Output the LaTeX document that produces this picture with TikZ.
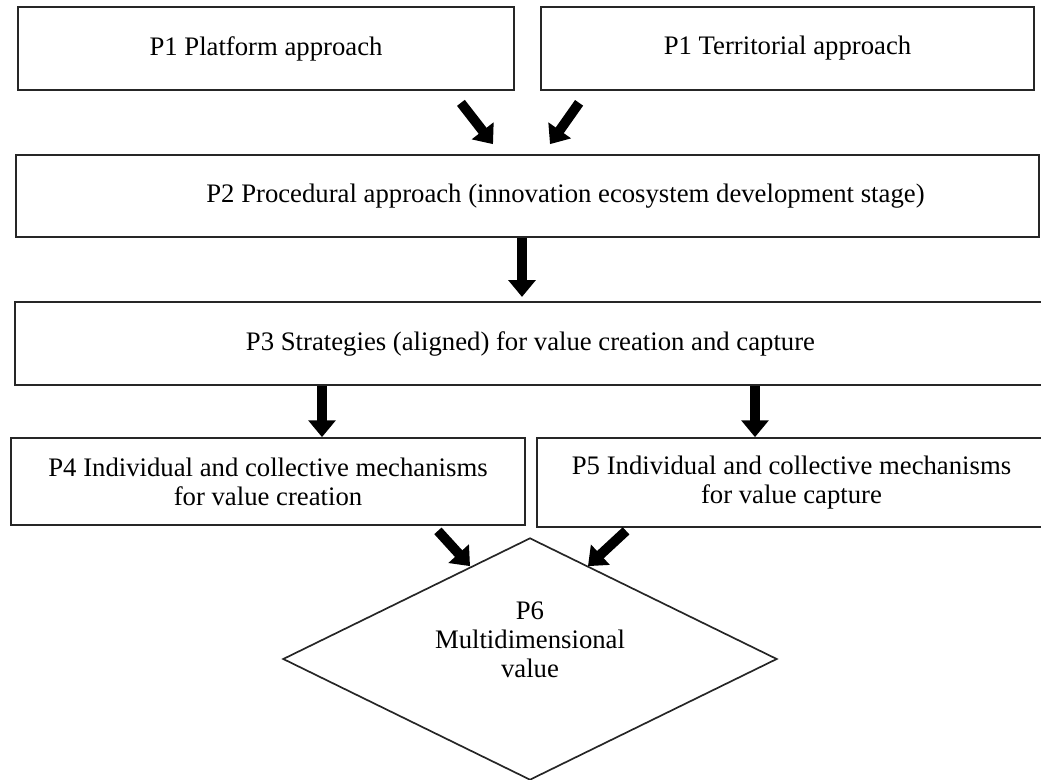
\documentclass[tikz,border=0pt]{standalone}
\usepackage{fontspec}
\setmainfont{Liberation Serif}
\usepackage{tikz}
\usetikzlibrary{calc,positioning,arrows.meta,shapes.geometric}
\tikzset{
    box/.style={
        rectangle,
        draw=black!85, line width=1.2pt,
        inner sep=0pt,
        align=center
    },
    bigarrow/.style={draw, line width=7pt, -{Triangle[width=19pt,length=12pt]}},
    font={\fontsize{19pt}{20.5pt}\selectfont},
}
\begin{document}
\begin{tikzpicture}[x=0.025cm, y=-0.025cm]

\useasboundingbox (0,0) rectangle (1041,780);

\node [box, minimum width=12.4cm,   minimum height=2.075cm] (plat)    at (266,48.5)   {P1 Platform approach};
\node [box, minimum width=12.325cm, minimum height=2.075cm] (terr)    at (787.5,48.5) {P1 Territorial approach};
\node [box, minimum width=25.575cm, minimum height=2.05cm]  (proc)    at (527.5,196)  {\hspace*{54pt}P2 Procedural approach (innovation ecosystem development stage)};
\node [box, minimum width=25.775cm, minimum height=2.075cm] (strat)   at (530.5,343.5) {P3 Strategies (aligned) for value creation and capture};
\node [box, minimum width=12.85cm,  minimum height=2.175cm] (create)  at (268,481.5)  {P4 Individual and collective mechanisms\\for value creation};
\node [box, minimum width=12.725cm, minimum height=2.225cm] (capture) at (791.5,482.5) {P5 Individual and collective mechanisms\\for value capture};
\node [diamond, draw=black!85, line width=1.2pt, minimum width=12.35cm, minimum height=6.05cm, inner sep=0pt] (value) at (530,659) {};
\node [align=center] (valuetext) at ($(value.center)+(0,-19)$) {P6\\Multidimensional\\value};

% columns of the straight arrows
\coordinate (col1) at (522,0);
\coordinate (col2) at (322,0);
\coordinate (col3) at (755,0);

\draw [bigarrow] ($(plat.south east)+(-54,12)$) -- ($(proc.north)+(-34.5,-10)$);
\draw [bigarrow] ($(terr.south west)+(39,12)$) -- ($(proc.north)+(22.5,-10)$);

\draw [bigarrow, shorten >=3pt] (proc.south -| col1) -- (strat.north -| col1);
\draw [bigarrow] (strat.south -| col2) -- (create.north -| col2);
\draw [bigarrow] (strat.south -| col3) -- (capture.north -| col3);

\draw [bigarrow] ($(create.south east)+(-88,5)$) -- ($(value.north)+(-60,29)$);
\draw [bigarrow] ($(capture.south west)+(90,3)$) -- ($(value.north)+(58,29)$);

\end{tikzpicture}
\end{document}
